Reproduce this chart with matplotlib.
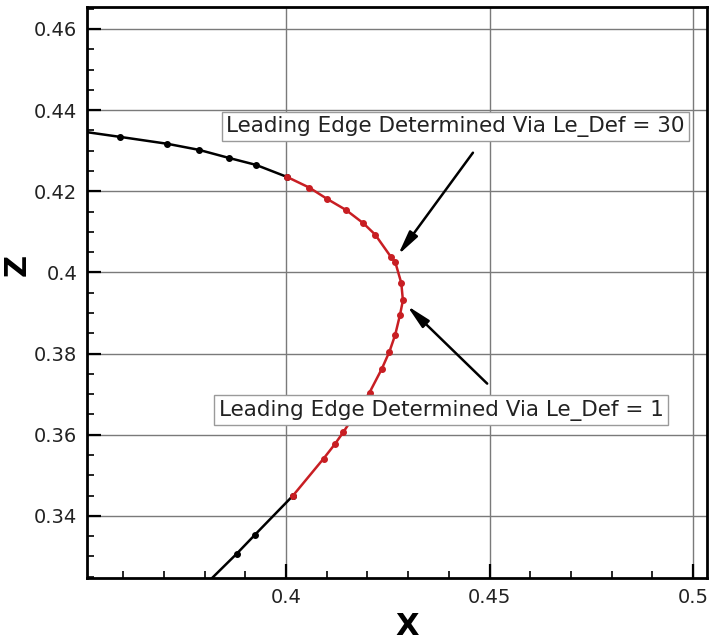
import numpy as np
import matplotlib
matplotlib.use('Agg')
import matplotlib.pyplot as plt

# 曲線データ
upper_x = [0.3480, 0.3592, 0.3708, 0.3786, 0.3860, 0.3926, 0.4003]
upper_z = [0.4350, 0.4334, 0.4317, 0.4302, 0.4282, 0.4265, 0.4235]

le_x = [0.4003, 0.4057, 0.4101, 0.4147, 0.4190, 0.4219, 0.4257, 0.4268,
        0.4283, 0.4287, 0.4280, 0.4268, 0.4254, 0.4235, 0.4205, 0.4141,
        0.4120, 0.4092, 0.4017]
le_z = [0.4235, 0.4209, 0.4181, 0.4154, 0.4121, 0.4093, 0.4039, 0.4026,
        0.3974, 0.3931, 0.3896, 0.3846, 0.3805, 0.3762, 0.3704, 0.3607,
        0.3577, 0.3541, 0.3450]

lower_x = [0.4017, 0.3924, 0.3879, 0.3789]
lower_z = [0.3450, 0.3354, 0.3307, 0.3218]

x_ticks = [0.4, 0.45, 0.5]
x_ticklabels = ['0.4', '0.45', '0.5']
z_ticks = [0.34, 0.36, 0.38, 0.4, 0.42, 0.44, 0.46]
z_ticklabels = ['0.34', '0.36', '0.38', '0.4', '0.42', '0.44', '0.46']

label_30 = 'Leading Edge Determined Via Le_Def = 30'
label_1 = 'Leading Edge Determined Via Le_Def = 1'
arrow_30 = ((0.4459, 0.4295), (0.4275, 0.4043))  # (tail, tip)
arrow_1 = ((0.4494, 0.3726), (0.4297, 0.3918))

plt.rcParams['font.family'] = ['DejaVu Sans']

fig = plt.figure(figsize=(7.09, 6.43), dpi=100)
ax = fig.add_axes([0.1227, 0.1011, 0.8745, 0.888])

red = '#c81e23'
ax.plot(upper_x, upper_z, color='black', lw=1.8, marker='o', ms=4, zorder=3)
ax.plot(lower_x, lower_z, color='black', lw=1.8, marker='o', ms=4, zorder=3)
ax.plot(le_x, le_z, color=red, lw=1.8, marker='o', ms=4, zorder=3)

ax.set_xlim(0.3511, 0.5034)
ax.set_ylim(0.3247, 0.4654)

ax.set_xticks(x_ticks)
ax.set_xticklabels(x_ticklabels)
ax.set_yticks(z_ticks)
ax.set_yticklabels(z_ticklabels)
ax.set_xticks(np.arange(0.36, 0.5, 0.01), minor=True)
ax.set_yticks(np.arange(0.325, 0.465, 0.005), minor=True)

ax.grid(True, which='major', color='#7a7a7a', lw=1.0, zorder=1)
ax.set_axisbelow(True)

ax.tick_params(which='major', direction='in', length=10, width=1.6,
               labelsize=14, pad=7, colors='black', labelcolor='#222222')
ax.tick_params(which='minor', direction='in', length=5, width=1.2)
for s in ax.spines.values():
    s.set_linewidth(2.0)

ax.set_xlabel('X', fontsize=22, fontweight='bold')
ax.set_ylabel('Z', fontsize=22, fontweight='bold')
ax.xaxis.set_label_coords(0.516, -0.060)
ax.yaxis.set_label_coords(-0.090, 0.548)

box = dict(boxstyle='square,pad=0.2', fc='white', ec='#9a9a9a', lw=1.0)
ax.text(0.44165, 0.43599, label_30, fontsize=15.5, color='#222222',
        ha='center', va='center', bbox=box, zorder=5)
ax.text(0.43808, 0.36603, label_1, fontsize=15.5, color='#222222',
        ha='center', va='center', bbox=box, zorder=5)

for tail, tip in [arrow_30, arrow_1]:
    ax.annotate('', xy=tip, xytext=tail,
                arrowprops=dict(arrowstyle='-|>,head_length=1.2,head_width=0.25',
                                color='black', lw=1.8, mutation_scale=12,
                                shrinkA=0, shrinkB=0), zorder=6)

fig.savefig('out.png', dpi=100)
